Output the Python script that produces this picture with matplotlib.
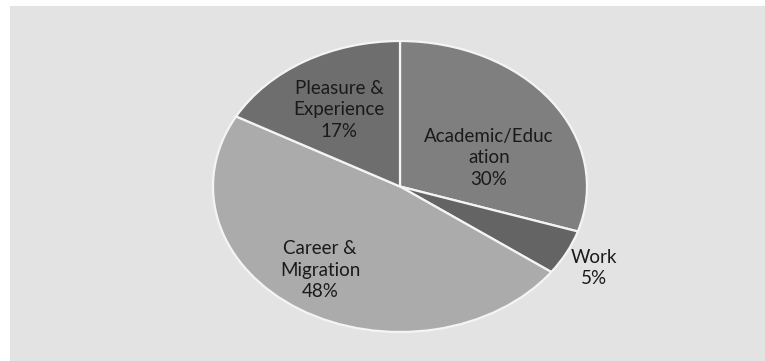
import matplotlib
matplotlib.use("Agg")
import matplotlib.pyplot as plt
from matplotlib.patches import Rectangle

# Data
categories = ["Academic/Educ\nation", "Work", "Career &\nMigration", "Pleasure &\nExperience"]
shares = [30, 5, 48, 17]
colors = ["#7f7f7f", "#646464", "#ababab", "#6e6e6e"]

# Label placement (in pie-radius units), layout only
label_pos = [(0.476, 0.196), (1.037, -0.560), (-0.428, -0.574), (-0.326, 0.526)]

W, H = 765, 361
fig = plt.figure(figsize=(W / 100, H / 100), dpi=100, facecolor="white")
bg = Rectangle((10 / W, 0), 1 - 10 / W, (H - 6) / H,
               transform=fig.transFigure, facecolor="#e3e3e3",
               edgecolor="none", zorder=-10)
fig.add_artist(bg)

# pie ellipse: x 213..587, y(top) 41..332
ax = fig.add_axes([213 / W, (H - 332) / H, 374 / W, 291 / H])
ax.set_zorder(1)
ax.set_facecolor("none")
wedges, _ = ax.pie(shares, colors=colors, startangle=90, counterclock=False,
                   radius=1.0,
                   wedgeprops=dict(edgecolor="#f4f4f4", linewidth=1.6))
ax.set_aspect("auto")
ax.set_xlim(-1, 1)
ax.set_ylim(-1, 1)
ax.axis("off")

for name, val, (x, y) in zip(categories, shares, label_pos):
    ax.text(x, y, f"{name}\n{val}%", ha="center", va="center",
            fontsize=13.5, family="Lato", color="#1a1a1a",
            linespacing=1.32, clip_on=False)

fig.savefig("out.png", dpi=100, facecolor="white")
